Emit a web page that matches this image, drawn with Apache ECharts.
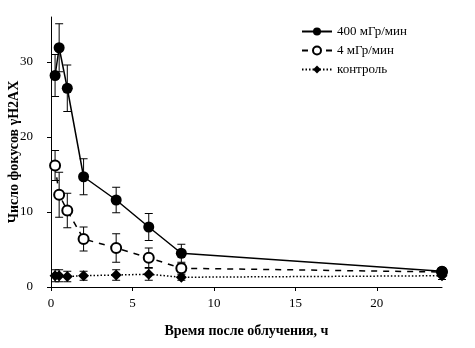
<!DOCTYPE html>
<html>
<head>
<meta charset="utf-8">
<script src="https://cdn.jsdelivr.net/npm/echarts@6/dist/echarts.min.js"></script>
<style>
  html, body { margin: 0; padding: 0; background: #fff; }
  #chart { width: 475px; height: 348px; }
</style>
</head>
<body>
<div id="chart"></div>
<script>
// hours after irradiation
var hours = [0.25, 0.5, 1, 2, 4, 6, 8, 24];
// 400 mGy/min
var mean400 = [28.2, 31.9, 26.5, 14.7, 11.6, 8.0, 4.5, 2.1];
var err400 = [2.8, 3.2, 3.1, 2.4, 1.7, 1.8, 1.2, 0.5];
// 4 mGy/min
var mean4 = [16.2, 12.3, 10.2, 6.4, 5.2, 3.9, 2.5, 2.0];
var err4 = [2.0, 3.0, 2.3, 1.6, 1.9, 1.3, 0.6, 0.4];
// control
var meanCtrl = [1.5, 1.5, 1.4, 1.5, 1.6, 1.7, 1.3, 1.5];
var errCtrl = [0.8, 0.8, 0.7, 0.6, 0.7, 0.8, 0.4, 0.5];

var xTicks = [0, 5, 10, 15, 20];
var yTicks = [0, 10, 20, 30];
var names = ['400 мГр/мин', '4 мГр/мин', 'контроль'];

var font = '"Liberation Serif", "DejaVu Serif", serif';

function pairs(m) {
  return hours.map(function (h, i) { return [h, m[i]]; });
}
function bars(m, e) {
  return hours.map(function (h, i) { return [h, m[i] - e[i], m[i] + e[i]]; });
}

function renderBar(params, api) {
  var x = api.value(0);
  var lo = api.coord([x, api.value(1)]);
  var hi = api.coord([x, api.value(2)]);
  var w = 4;
  var st = { stroke: '#000', lineWidth: 1 };
  return {
    type: 'group',
    children: [
      { type: 'line', shape: { x1: lo[0], y1: lo[1], x2: hi[0], y2: hi[1] }, style: st },
      { type: 'line', shape: { x1: lo[0] - w, y1: lo[1], x2: lo[0] + w, y2: lo[1] }, style: st },
      { type: 'line', shape: { x1: hi[0] - w, y1: hi[1], x2: hi[0] + w, y2: hi[1] }, style: st }
    ]
  };
}

function errSeries(m, e) {
  return {
    type: 'custom',
    renderItem: renderBar,
    data: bars(m, e),
    encode: { x: 0, y: [1, 2] },
    silent: true,
    z: 1
  };
}

var chart = echarts.init(document.getElementById('chart'));
chart.setOption({
  animation: false,
  backgroundColor: '#fff',
  textStyle: { fontFamily: font, color: '#000' },
  grid: { left: 51, right: 33, top: 17, bottom: 61, containLabel: false, outerBoundsMode: 'none' },
  legend: {
    data: names,
    orient: 'vertical',
    left: 296,
    top: 20,
    itemWidth: 30,
    itemHeight: 10,
    itemGap: 6,
    textStyle: { fontFamily: font, fontSize: 13, color: '#000' }
  },
  xAxis: {
    type: 'value',
    min: 0,
    max: 24,
    name: 'Время после облучения, ч',
    nameLocation: 'middle',
    nameGap: 37,
    nameTextStyle: { fontFamily: font, fontSize: 14, fontWeight: 'bold', color: '#000' },
    axisLine: { onZero: false, lineStyle: { color: '#000', width: 1 } },
    axisTick: { show: true, length: 4, customValues: xTicks, lineStyle: { color: '#000' } },
    axisLabel: { customValues: xTicks, margin: 10, fontSize: 13, fontFamily: font, color: '#000' },
    splitLine: { show: false }
  },
  yAxis: {
    type: 'value',
    min: 0,
    max: 36,
    name: 'Число фокусов γH2AX',
    nameLocation: 'middle',
    nameGap: 30,
    nameMoveOverlap: false,
    nameTextStyle: { fontFamily: font, fontSize: 14, fontWeight: 'bold', color: '#000' },
    axisLine: { show: true, lineStyle: { color: '#000', width: 1 } },
    axisTick: { show: true, length: 4, customValues: yTicks, lineStyle: { color: '#000' } },
    axisLabel: { customValues: yTicks, margin: 18, fontSize: 13, fontFamily: font, color: '#000' },
    splitLine: { show: false }
  },
  series: [
    errSeries(mean400, err400),
    errSeries(mean4, err4),
    errSeries(meanCtrl, errCtrl),
    {
      name: names[0],
      type: 'line',
      data: pairs(mean400),
      symbol: 'circle',
      symbolSize: 11,
      lineStyle: { color: '#000', width: 1.5, type: 'solid' },
      itemStyle: { color: '#000' },
      z: 4
    },
    {
      name: names[1],
      type: 'line',
      data: pairs(mean4),
      symbol: 'emptyCircle',
      symbolSize: 10,
      lineStyle: { color: '#000', width: 1.5, type: [6, 6] },
      itemStyle: { color: '#000', borderColor: '#000', borderWidth: 1 },
      z: 3
    },
    {
      name: names[2],
      type: 'line',
      data: pairs(meanCtrl),
      symbol: 'diamond',
      symbolSize: 11,
      lineStyle: { color: '#000', width: 1.5, type: [1.5, 2] },
      itemStyle: { color: '#000' },
      z: 2
    }
  ]
});
</script>
</body>
</html>
